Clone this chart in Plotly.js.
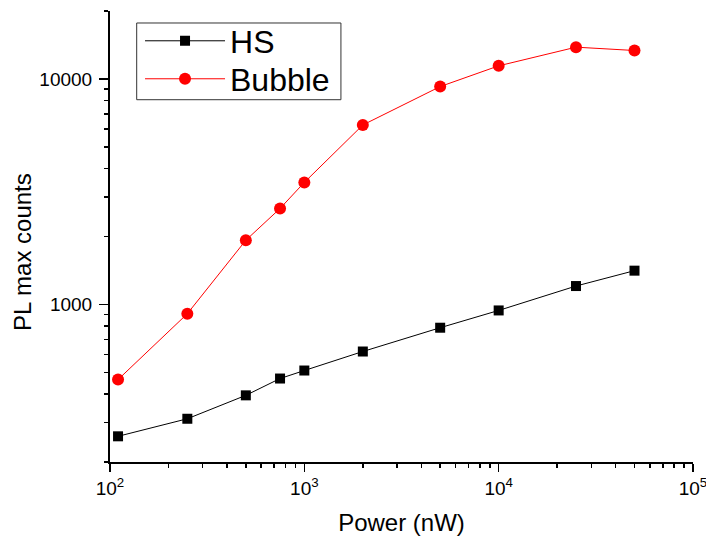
<!DOCTYPE html>
<html>
<head>
<meta charset="utf-8">
<script src="https://cdn.plot.ly/plotly-3.0.1.min.js"></script>
<style>html,body{margin:0;padding:0;background:#fff;}#chart{width:706px;height:540px;}</style>
</head>
<body>
<div id="chart"></div>
<script>
const power = [110, 250, 500, 750, 1000, 2000, 5000, 10000, 25000, 50000];
const hsCounts = [260, 311, 395, 469, 509, 618, 788, 940, 1206, 1411];
const bubbleCounts = [464, 909, 1925, 2663, 3475, 6247, 9245, 11425, 13824, 13360];

const xMajorVals = [100, 1000, 10000, 100000];
const xMajorText = ['10<sup>2</sup>', '10<sup>3</sup>', '10<sup>4</sup>', '10<sup>5</sup>'];
const xMinorVals = [200,300,400,500,600,700,800,900,2000,3000,4000,5000,6000,7000,8000,9000,20000,30000,40000,50000,60000,70000,80000,90000];
const yMajorVals = [1000, 10000];
const yMajorText = ['1000', '10000'];
const yMinorVals = [200,300,400,500,600,700,800,900,2000,3000,4000,5000,6000,7000,8000,9000,20000];

const FONT = 'Liberation Sans, Arial, sans-serif';

const traces = [
  {x: power, y: hsCounts, name: 'HS', mode: 'lines+markers', type: 'scatter', legend: 'legend',
   line: {color: '#000000', width: 1}, marker: {symbol: 'square', size: 10, color: '#000000'}},
  {x: power, y: bubbleCounts, name: 'Bubble', mode: 'lines+markers', type: 'scatter', legend: 'legend2',
   line: {color: '#ff0000', width: 1}, marker: {symbol: 'circle', size: 12, color: '#ff0000'}}
];

const xr = [2, 5];
const yr = [Math.log10(200), Math.log10(20000)];

const legendBase = {xanchor: 'left', yanchor: 'middle', borderwidth: 0, bgcolor: 'rgba(0,0,0,0)',
  font: {family: FONT, size: 32, color: '#000000'}, itemwidth: 80};

const layout = {
  width: 706, height: 540,
  margin: {l: 110, r: 13, t: 11, b: 78},
  paper_bgcolor: '#ffffff', plot_bgcolor: '#ffffff',
  font: {family: FONT, color: '#000000', size: 19},
  showlegend: true,
  legend: Object.assign({}, legendBase, {x: 0.0515, y: 0.9335}),
  legend2: Object.assign({}, legendBase, {x: 0.0515, y: 0.8493}),
  shapes: [{type: 'rect', xref: 'paper', yref: 'paper', x0: 0.0458, x1: 0.3961, y0: 0.8033, y1: 0.9734,
    line: {color: '#333333', width: 1}, fillcolor: 'rgba(0,0,0,0)', layer: 'above'}],
  annotations: [{text: 'PL max counts', xref: 'paper', yref: 'paper', x: -0.150, y: 0.4645,
    xanchor: 'center', yanchor: 'middle', textangle: -90, showarrow: false,
    font: {family: FONT, size: 24, color: '#000000'}}],
  xaxis: {type: 'log', range: xr, showgrid: false, zeroline: false,
    showline: true, linecolor: '#000000', linewidth: 2,
    ticks: 'outside', ticklen: 8, tickwidth: 1.5, tickcolor: '#000000',
    tickmode: 'array', tickvals: xMajorVals, ticktext: xMajorText, ticklabeloverflow: 'allow',
    tickfont: {family: FONT, size: 19, color: '#000000'},
    minor: {tickmode: 'array', tickvals: xMinorVals, ticks: 'outside', ticklen: 4, tickwidth: 1.5, tickcolor: '#000000', showgrid: false},
    title: {text: 'Power (nW)', font: {family: FONT, size: 24, color: '#000000'}, standoff: 16}},
  yaxis: {type: 'log', range: yr, showgrid: false, zeroline: false,
    showline: true, linecolor: '#000000', linewidth: 2,
    ticks: 'outside', ticklen: 9, tickwidth: 1.5, tickcolor: '#000000',
    tickmode: 'array', tickvals: yMajorVals, ticktext: yMajorText, ticklabelstandoff: 3,
    tickfont: {family: FONT, size: 19, color: '#000000'},
    minor: {tickmode: 'array', tickvals: yMinorVals, ticks: 'outside', ticklen: 4, tickwidth: 1.5, tickcolor: '#000000', showgrid: false}},
  xaxis2: {type: 'log', range: xr, overlaying: 'x', side: 'top', showgrid: false, zeroline: false,
    showline: true, linecolor: '#000000', linewidth: 2,
    ticks: 'inside', ticklen: 5, tickwidth: 1.5, tickcolor: '#000000', showticklabels: false,
    tickmode: 'array', tickvals: xMajorVals,
    minor: {tickmode: 'array', tickvals: xMinorVals, ticks: 'inside', ticklen: 3, tickwidth: 1.5, tickcolor: '#000000', showgrid: false}},
  yaxis2: {type: 'log', range: yr, overlaying: 'y', side: 'right', showgrid: false, zeroline: false,
    showline: true, linecolor: '#000000', linewidth: 2,
    ticks: 'inside', ticklen: 5, tickwidth: 1.5, tickcolor: '#000000', showticklabels: false,
    tickmode: 'array', tickvals: yMajorVals,
    minor: {tickmode: 'array', tickvals: yMinorVals, ticks: 'inside', ticklen: 3, tickwidth: 1.5, tickcolor: '#000000', showgrid: false}}
};

Plotly.newPlot('chart', traces, layout, {displayModeBar: false, staticPlot: true});
</script>
</body>
</html>
